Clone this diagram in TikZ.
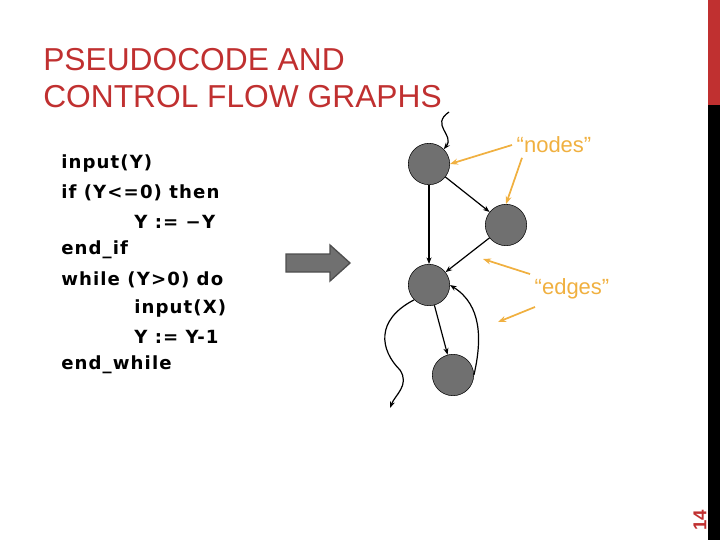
\documentclass[tikz,border=0pt]{standalone}
\usepackage{fontspec}
\setmainfont{Liberation Sans}
\newfontfamily\codefont[LetterSpace=6]{DejaVu Sans}
\usetikzlibrary{arrows.meta,decorations.pathmorphing}
\definecolor{tred}{RGB}{192,48,48}
\definecolor{org}{RGB}{240,176,64}
\definecolor{ngray}{RGB}{112,112,112}
\begin{document}
\begin{tikzpicture}[x=0.75pt,y=-0.75pt,
  gnode/.style={circle,draw=black,fill=ngray,minimum size=31pt,inner sep=0pt},
  edge/.style={-{Stealth[length=5pt]},line width=0.9pt},
  note/.style={-{Stealth[length=6pt]},org,line width=1.3pt},
  codeline/.style={anchor=west,font=\codefont\bfseries\fontsize{13.6}{16}\selectfont,inner sep=0pt}]
\useasboundingbox (0,0) rectangle (720,540);
\fill[tred] (708,0) rectangle (720,105);
\fill[black] (708,105) rectangle (720,540);
\node[rotate=90,text=tred,font=\bfseries\fontsize{14}{16}\selectfont] (pg) at (700,520) {14};
\node[anchor=west,text=tred,font=\fontsize{23.8}{27}\selectfont,inner sep=0pt] (t1) at (43,60) {PSEUDOCODE AND};
\node[anchor=west,text=tred,font=\fontsize{23.8}{27}\selectfont,inner sep=0pt] (t2) at (43,97) {CONTROL FLOW GRAPHS};
\node[codeline] (c1) at (61,163) {input(Y)};
\node[codeline] (c2) at (61,193) {if (Y<=0) then};
\node[codeline] (c3) at (134,222) {Y := −Y};
\node[codeline] (c4) at (61,250) {end\_if};
\node[codeline] (c5) at (61,280) {while (Y>0) do};
\node[codeline] (c6) at (134,308) {input(X)};
\node[codeline] (c7) at (134,337) {Y := Y-1};
\node[codeline] (c8) at (61,365) {end\_while};
\draw[fill=ngray,draw=ngray!70!black,line width=1pt] (286,254)--(330,254)--(330,245)--(350,263)--(330,281)--(330,272)--(286,272)--cycle;
\node[gnode] (n1) at (429,164) {};
\node[gnode] (n2) at (506,225) {};
\node[gnode] (n3) at (429,285) {};
\node[gnode] (n4) at (453,375) {};
\coordinate (in) at (449,112);
\coordinate (out) at (390,408);
\draw[edge] (in) .. controls (430,125) and (455,135) .. (n1.north east);
\draw[edge] (n1) -- (n2);
\draw[edge] (n1) -- (n3);
\draw[edge] (n2) -- (n3);
\draw[edge] (n3) -- (n4);
\draw[edge] (n4.east) .. controls (482,340) and (482,305) .. (n3.east);
\draw[edge] (n3.south west) .. controls (375,320) and (380,350) .. (400,370) .. controls (410,385) and (395,395) .. (out);
\node[text=org,font=\fontsize{16.5}{18}\selectfont] (nodes) at (554,145) {“nodes”};
\node[text=org,font=\fontsize{16.5}{18}\selectfont] (edges) at (572,289) {“edges”};
\draw[note] (nodes.west) -- (n1.east);
\draw[note] (nodes.south west) ++(10,0) -- (n2.north);
\draw[note] (edges.north west) -- (483,259);
\coordinate (e2) at (498,322);
\draw[note] (edges.south west) ++(5,3) -- (e2);
\end{tikzpicture}
\end{document}
